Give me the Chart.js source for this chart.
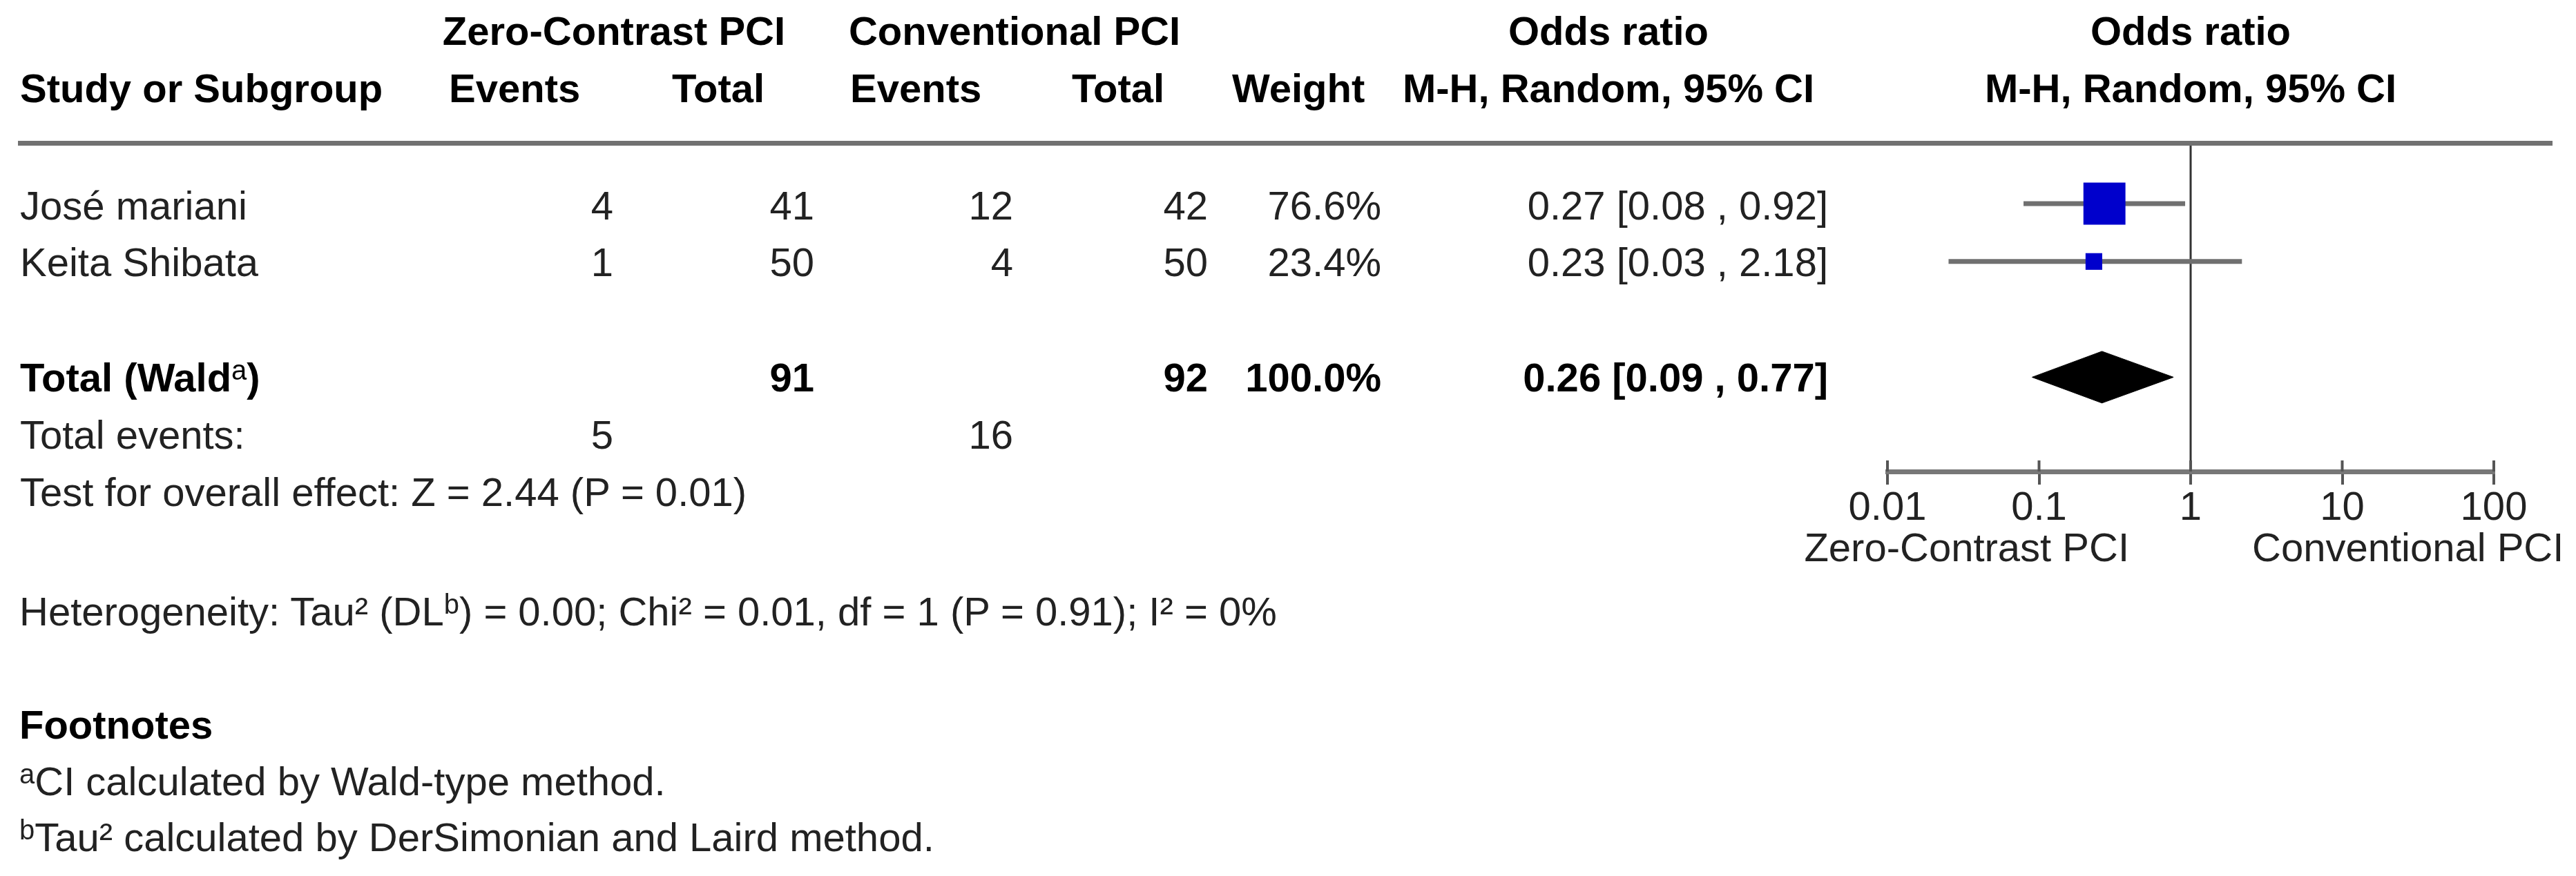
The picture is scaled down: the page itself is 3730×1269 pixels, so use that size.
<!DOCTYPE html>
<html>
<head>
<meta charset="utf-8">
<script src="https://cdn.jsdelivr.net/npm/chart.js@4.4.1/dist/chart.umd.min.js"></script>
<style>
html, body { margin: 0; padding: 0; background: #ffffff; }
#wrap { position: relative; width: 3730px; height: 1269px; overflow: hidden;
        font-family: "Liberation Sans", Arial, sans-serif; font-size: 58px; color: #222; }
#c { position: absolute; left: 0; top: 0; }
.t { position: absolute; white-space: nowrap; line-height: 58px; height: 58px; }
.b { font-weight: bold; color: #000; }
.t sup { font-size: 40px; vertical-align: 17px; line-height: 0; font-weight: normal; }
.hline { position: absolute; left: 26px; width: 3670px; top: 204px; height: 7px; background: #717171; }
</style>
</head>
<body>
<div id="wrap">
  <canvas id="c" width="3730" height="1269"></canvas>
  <div class="hline"></div>
</div>
<script>
// ---------------- data ----------------
const groupNames   = ["Zero-Contrast PCI", "Conventional PCI"];
const studies      = ["José mariani", "Keita Shibata"];
const expEvents    = [4, 1];
const expTotal     = [41, 50];
const ctlEvents    = [12, 4];
const ctlTotal     = [42, 50];
const weights      = [76.6, 23.4];
const oddsRatio    = [0.27, 0.23];
const ciLow        = [0.079, 0.0253];
const ciHigh       = [0.92, 2.18];
const ciText       = ["0.27 [0.08 , 0.92]", "0.23 [0.03 , 2.18]"];
const totalN       = [91, 92];
const totalEvents  = [5, 16];
const pooled       = [0.26, 0.09, 0.77];      // estimate, lower, upper
const pooledText   = "0.26 [0.09 , 0.77]";
const totalWeight  = "100.0%";
const tickValues   = [0.01, 0.1, 1, 10, 100];
const tickLabels   = ["0.01", "0.1", "1", "10", "100"];
const favourLabels = ["Zero-Contrast PCI", "Conventional PCI"];

// ---------------- layout (styling only) ----------------
const W = 3730, H = 1269;
const FONT = '"Liberation Sans", Arial, sans-serif';
const plotLeft = 2733, plotRight = 3611, plotTop = 208, plotBottom = 683;
const yMin = -1.038, yMax = 4.63;
const totalRow = studies.length + 1;
const diamondHalf = 0.447;

// ---------------- chart ----------------
const datasets = [];
datasets.push({
  type: 'scatter', label: 'Study',
  data: studies.map((s, i) => ({ x: oddsRatio[i], y: i })),
  pointStyle: 'rect',
  pointRadius: c => (8 + 0.69 * weights[c.dataIndex]) / Math.SQRT2,
  pointBackgroundColor: '#0000CC', pointBorderColor: '#0000CC', pointBorderWidth: 0,
  order: 0
});
datasets.push({
  type: 'line', label: 'Pooled',
  data: [
    { x: pooled[1], y: totalRow },
    { x: pooled[0], y: totalRow - diamondHalf },
    { x: pooled[2], y: totalRow },
    { x: pooled[0], y: totalRow + diamondHalf },
    { x: pooled[1], y: totalRow }
  ],
  borderColor: '#000', backgroundColor: '#000', borderWidth: 1,
  fill: 'shape', pointRadius: 0, tension: 0, order: 1
});
studies.forEach((s, i) => {
  datasets.push({
    type: 'line', label: 'CI ' + s,
    data: [{ x: ciLow[i], y: i }, { x: ciHigh[i], y: i }],
    borderColor: '#707070', borderWidth: 7, pointRadius: 0, fill: false, order: 2
  });
});
datasets.push({
  type: 'line', label: 'No effect',
  data: [{ x: 1, y: yMin }, { x: 1, y: yMax }],
  borderColor: '#333', borderWidth: 3, pointRadius: 0, fill: false, order: 3
});

const tickStubs = {
  id: 'tickStubs',
  afterDatasetsDraw(chart) {
    const s = chart.scales.x, ctx = chart.ctx;
    ctx.save();
    ctx.strokeStyle = '#555';
    ctx.lineWidth = 4;
    s.ticks.forEach(t => {
      const px = s.getPixelForValue(t.value);
      ctx.beginPath();
      ctx.moveTo(px, s.top - 16);
      ctx.lineTo(px, s.top);
      ctx.stroke();
    });
    ctx.restore();
  }
};

const chart = new Chart(document.getElementById('c'), {
  type: 'scatter',
  data: { datasets },
  plugins: [tickStubs],
  options: {
    responsive: false,
    devicePixelRatio: 1,
    animation: false,
    events: [],
    layout: { padding: { left: plotLeft, right: W - plotRight, top: plotTop, bottom: 0 } },
    plugins: { legend: { display: false }, tooltip: { enabled: false } },
    scales: {
      x: {
        type: 'logarithmic', min: 0.01, max: 100, position: 'bottom',
        afterBuildTicks: s => { s.ticks = tickValues.map(v => ({ value: v })); },
        afterFit: s => { s.height = H - plotBottom; },
        ticks: {
          callback: (v, i) => tickLabels[i],
          font: { family: FONT, size: 58 }, color: '#222',
          padding: 0, autoSkip: false, maxRotation: 0
        },
        grid: { drawOnChartArea: false, drawTicks: true, tickLength: 19, color: '#555', lineWidth: 4 },
        border: { display: true, color: '#777', width: 7 }
      },
      y: { type: 'linear', display: false, min: yMin, max: yMax, reverse: true }
    }
  }
});

// ---------------- table text ----------------
const wrap = document.getElementById('wrap');
function put(html, x, base, align, bold) {
  const d = document.createElement('div');
  d.className = 't' + (bold ? ' b' : '');
  d.innerHTML = html;
  d.style.top = (base - 49) + 'px';
  if (align === 'left') d.style.left = x + 'px';
  else if (align === 'right') d.style.right = (W - x) + 'px';
  else { d.style.left = (x - 1000) + 'px'; d.style.width = '2000px'; d.style.textAlign = 'center'; }
  wrap.appendChild(d);
}
const col = { study: 29, expEv: 888, expTot: 1179, ctlEv: 1467, ctlTot: 1749, weight: 2000, ci: 2647,
              expHead: 889, ctlHead: 1469, ciHead: 2329 };
const plotMid = chart.scales.x.getPixelForValue(1);
const rowBase = [318, 400];
const base = { h1: 65, h2: 148, total: 567, events: 650, test: 733, het: 906, foot: 1070, fa: 1152, fb: 1233, axisLab: 813 };

// headers
put(groupNames[0], col.expHead, base.h1, 'center', true);
put(groupNames[1], col.ctlHead, base.h1, 'center', true);
put('Odds ratio', col.ciHead, base.h1, 'center', true);
put('Odds ratio', plotMid, base.h1, 'center', true);
put('Study or Subgroup', col.study, base.h2, 'left', true);
put('Events', 650, base.h2, 'left', true);
put('Total', 973, base.h2, 'left', true);
put('Events', 1231, base.h2, 'left', true);
put('Total', 1552, base.h2, 'left', true);
put('Weight', 1784, base.h2, 'left', true);
put('M-H, Random, 95% CI', col.ciHead, base.h2, 'center', true);
put('M-H, Random, 95% CI', plotMid, base.h2, 'center', true);

// study rows
studies.forEach((s, i) => {
  const b = rowBase[i];
  put(s, col.study, b, 'left');
  put(String(expEvents[i]), col.expEv, b, 'right');
  put(String(expTotal[i]), col.expTot, b, 'right');
  put(String(ctlEvents[i]), col.ctlEv, b, 'right');
  put(String(ctlTotal[i]), col.ctlTot, b, 'right');
  put(weights[i].toFixed(1) + '%', col.weight, b, 'right');
  put(ciText[i], col.ci, b, 'right');
});

// total
put('Total (Wald<sup>a</sup>)', col.study, base.total, 'left', true);
put(String(totalN[0]), col.expTot, base.total, 'right', true);
put(String(totalN[1]), col.ctlTot, base.total, 'right', true);
put(totalWeight, col.weight, base.total, 'right', true);
put(pooledText, col.ci, base.total, 'right', true);

put('Total events:', col.study, base.events, 'left');
put(String(totalEvents[0]), col.expEv, base.events, 'right');
put(String(totalEvents[1]), col.ctlEv, base.events, 'right');

put('Test for overall effect: Z = 2.44 (P = 0.01)', col.study, base.test, 'left');
put('Heterogeneity: Tau² (DL<sup>b</sup>) = 0.00; Chi² = 0.01, df = 1 (P = 0.91); I² = 0%', 28, base.het, 'left');
put('Footnotes', 28, base.foot, 'left', true);
put('<sup>a</sup>CI calculated by Wald-type method.', 28, base.fa, 'left');
put('<sup>b</sup>Tau² calculated by DerSimonian and Laird method.', 28, base.fb, 'left');

// favours labels under the axis
put(favourLabels[0], plotMid - 89, base.axisLab, 'right');
put(favourLabels[1], plotMid + 89, base.axisLab, 'left');
</script>
</body>
</html>
